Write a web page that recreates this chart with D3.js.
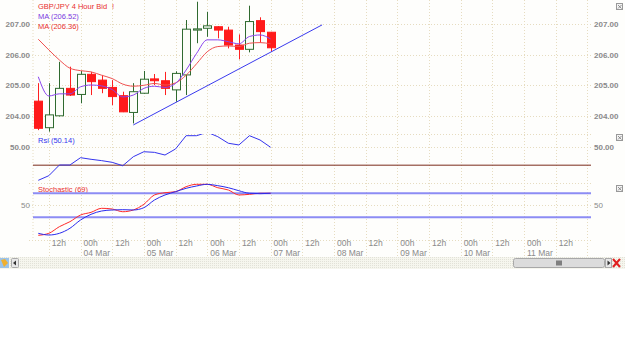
<!DOCTYPE html>
<html>
<head>
<meta charset="utf-8">
<script src="https://cdn.jsdelivr.net/npm/d3@7"></script>
<style>
  body { margin: 0; background: #fff; }
  svg { display: block; font-family: "Liberation Sans", Arial, sans-serif; }
</style>
</head>
<body>
<svg id="chart" width="625" height="342"></svg>
<script>
// GBP/JPY 4 hour candles, 03 Mar 08:00 -> 07 Mar 00:00 (2008)
var candleTimes = ["2008-03-03T08:00Z", "2008-03-03T12:00Z", "2008-03-03T16:00Z", "2008-03-03T20:00Z",
  "2008-03-04T00:00Z", "2008-03-04T04:00Z", "2008-03-04T08:00Z", "2008-03-04T12:00Z", "2008-03-04T16:00Z", "2008-03-04T20:00Z",
  "2008-03-05T00:00Z", "2008-03-05T04:00Z", "2008-03-05T08:00Z", "2008-03-05T12:00Z", "2008-03-05T16:00Z", "2008-03-05T20:00Z",
  "2008-03-06T00:00Z", "2008-03-06T04:00Z", "2008-03-06T08:00Z", "2008-03-06T12:00Z", "2008-03-06T16:00Z", "2008-03-06T20:00Z",
  "2008-03-07T00:00Z"];
var opens  = [204.48, 203.61, 204.00, 204.90, 204.70, 205.36, 205.17, 204.93, 204.66, 204.11, 204.74, 205.21, 205.15, 204.85, 205.34, 206.81, 206.87, 206.92, 206.81, 206.32, 206.18, 207.12, 206.74];
var highs  = [205.07, 205.07, 205.77, 205.61, 205.47, 205.44, 205.34, 205.17, 204.79, 205.07, 205.47, 205.37, 205.44, 205.46, 207.14, 207.74, 207.41, 206.94, 206.92, 206.67, 207.61, 207.23, 206.75];
var lows   = [203.53, 203.48, 203.98, 204.65, 204.41, 204.68, 204.74, 204.35, 204.12, 203.75, 204.72, 205.01, 204.68, 204.46, 204.68, 206.38, 206.59, 206.54, 206.21, 205.85, 206.08, 206.40, 206.10];
var closes = [203.59, 204.03, 204.90, 204.68, 205.36, 205.12, 204.90, 204.63, 204.13, 204.79, 205.20, 205.15, 204.90, 205.39, 206.84, 206.85, 206.95, 206.81, 206.32, 206.18, 207.09, 206.76, 206.23];
var maFast = [205.28, 204.65, 204.72, 204.72, 204.95, 205.01, 204.98, 204.86, 204.62, 204.68, 204.90, 204.97, 204.93, 205.06, 205.50, 206.05, 206.49, 206.49, 206.43, 206.36, 206.60, 206.65, 206.52];
var maSlow = [206.51, 206.16, 205.83, 205.56, 205.48, 205.44, 205.33, 205.22, 205.04, 204.97, 205.00, 205.06, 205.01, 205.08, 205.33, 205.71, 206.10, 206.27, 206.29, 206.27, 206.38, 206.40, 206.36];
var rsi    = [13.0, 18.2, 30.2, 30.2, 38.4, 36.6, 35.1, 33.2, 29.4, 39.5, 45.1, 44.4, 41.4, 48.2, 63.1, 63.1, 67.0, 62.0, 54.6, 52.7, 63.1, 58.3, 50.1];
var stochK = [0.0, 3.3, 14.4, 22.7, 33.8, 38.3, 45.0, 43.8, 39.3, 42.2, 51.7, 67.2, 71.0, 72.7, 81.0, 85.0, 85.0, 79.3, 75.5, 67.2, 68.3, 70.0, 70.0];
var stochD = [3.3, 0.5, 3.3, 11.7, 25.5, 35.0, 40.5, 42.2, 42.7, 42.2, 46.0, 58.8, 67.2, 72.7, 78.3, 82.2, 85.0, 82.7, 79.3, 74.3, 70.0, 69.4, 70.0];
var trendTimes = ["2008-03-04T20:00Z", "2008-03-07T19:30Z"];
var trendPrices = [203.70, 206.98];
var priceTicks = [204, 205, 206, 207];
var rsiLevel = 30;
var stochLevels = [30, 70];
var legendTexts = ["GBP/JPY 4 Hour Bid", "MA (206.52)", "MA (206.36)"];

var svg = d3.select("#chart");
var W = 625, left = 33, right = 591;
var gridCol = "#e6dcc0", labCol = "#8a8a8a";

var candles = candleTimes.map(function(t, i) {
  return {t: new Date(t), o: opens[i], h: highs[i], l: lows[i], c: closes[i],
    maF: maFast[i], maS: maSlow[i], rsi: rsi[i], k: stochK[i], d: stochD[i]};
});

var x = d3.scaleUtc()
  .domain([new Date("2008-03-03T06:00Z"), new Date("2008-03-12T01:00Z")])
  .range([left, 590]);

// panels
var pP = {top: 0, bottom: 134}, pR = {top: 134, bottom: 183}, pS = {top: 183, bottom: 238};
var yP = d3.scaleLinear().domain([204, 207]).range([115.8, 24.3]);
var yR = d3.scaleLinear().domain([10, 65]).range([183, 134]);
var yS = d3.scaleLinear().domain([0, 100]).range([235.3, 175.3]);

var defs = svg.append("defs");
[["clipP", pP], ["clipR", pR], ["clipS", pS]].forEach(function(c) {
  defs.append("clipPath").attr("id", c[0]).append("rect")
    .attr("x", left).attr("y", c[1].top).attr("width", right - left).attr("height", c[1].bottom - c[1].top);
});

svg.append("rect").attr("width", W).attr("height", 257).attr("fill", "#fefefc");

// vertical grid every 12h
var ticks = d3.utcHour.every(12).range(new Date("2008-03-03T12:00Z"), new Date("2008-03-12T01:00Z"));
svg.append("g").selectAll("line").data(ticks).enter().append("line")
  .attr("x1", function(d) { return Math.round(x(d)) + 0.5; })
  .attr("x2", function(d) { return Math.round(x(d)) + 0.5; })
  .attr("y1", 0).attr("y2", 257)
  .attr("stroke", gridCol).attr("stroke-dasharray", "1,2");

// horizontal separators and grid lines
var hLines = [pR.top, pS.top, pS.bottom + 2].concat(priceTicks.map(yP), [yR(50), yS(50)]);
svg.append("g").selectAll("line").data(hLines).enter().append("line")
  .attr("x1", left - 4).attr("x2", right)
  .attr("y1", function(d) { return Math.round(d) + 0.5; })
  .attr("y2", function(d) { return Math.round(d) + 0.5; })
  .attr("stroke", gridCol).attr("stroke-dasharray", "1,2");
svg.append("line").attr("x1", left).attr("x2", left).attr("y1", 0).attr("y2", 238)
  .attr("stroke", gridCol).attr("stroke-dasharray", "1,2");

// price axis labels both sides
var fmt2 = d3.format(".2f");
var axisL = svg.append("g").attr("transform", "translate(" + left + ",0)")
  .call(d3.axisLeft(yP).tickValues(priceTicks).tickFormat(fmt2).tickSize(0).tickPadding(3));
var axisR = svg.append("g").attr("transform", "translate(" + right + ",0)")
  .call(d3.axisRight(yP).tickValues(priceTicks).tickFormat(fmt2).tickSize(0).tickPadding(3));
var axisRL = svg.append("g").attr("transform", "translate(" + left + ",0)")
  .call(d3.axisLeft(yR).tickValues([50]).tickFormat(fmt2).tickSize(0).tickPadding(3));
var axisRR = svg.append("g").attr("transform", "translate(" + right + ",0)")
  .call(d3.axisRight(yR).tickValues([50]).tickFormat(fmt2).tickSize(0).tickPadding(3));
var axisSL = svg.append("g").attr("transform", "translate(" + left + ",0)")
  .call(d3.axisLeft(yS).tickValues([50]).tickFormat(d3.format("d")).tickSize(0).tickPadding(3));
var axisSR = svg.append("g").attr("transform", "translate(" + right + ",0)")
  .call(d3.axisRight(yS).tickValues([50]).tickFormat(d3.format("d")).tickSize(0).tickPadding(3));
[axisL, axisR, axisRL, axisRR].forEach(function(a) {
  a.select(".domain").remove();
  a.selectAll("text").attr("font-size", 8).attr("font-weight", "bold").attr("fill", labCol)
    .attr("font-family", "'Liberation Sans', Arial, sans-serif");
});
[axisSL, axisSR].forEach(function(a) {
  a.select(".domain").remove();
  a.selectAll("text").attr("font-size", 8).attr("fill", labCol)
    .attr("font-family", "'Liberation Sans', Arial, sans-serif");
});

// time labels
var tl = svg.append("g").attr("font-size", 8.5).attr("fill", labCol);
tl.selectAll("text.h").data(ticks.slice(0, -1)).enter().append("text").attr("class", "h")
  .attr("x", function(d) { return x(d) + 3; }).attr("y", 246)
  .text(function(d) { return d3.utcFormat("%H")(d) + "h"; });
tl.selectAll("text.d").data(ticks.filter(function(d) { return d.getUTCHours() === 0; }).slice(0, -1))
  .enter().append("text").attr("class", "d")
  .attr("x", function(d) { return x(d) + 3; }).attr("y", 256)
  .text(d3.utcFormat("%d %b"));

// price panel
var gP = svg.append("g").attr("clip-path", "url(#clipP)");
var bw = 8;
gP.selectAll("line.wick").data(candles).enter().append("line")
  .attr("x1", function(d) { return Math.round(x(d.t)) + 0.5; })
  .attr("x2", function(d) { return Math.round(x(d.t)) + 0.5; })
  .attr("y1", function(d) { return yP(d.h); }).attr("y2", function(d) { return yP(d.l); })
  .attr("stroke", function(d) { return d.c >= d.o ? "#2f6a2f" : "#ff2020"; });
gP.selectAll("rect.body").data(candles).enter().append("rect")
  .attr("x", function(d) { return Math.round(x(d.t)) - bw / 2 + 0.5; })
  .attr("y", function(d) { return yP(Math.max(d.o, d.c)); })
  .attr("width", bw)
  .attr("height", function(d) { return Math.max(1, Math.abs(yP(d.o) - yP(d.c))); })
  .attr("fill", function(d) { return d.c >= d.o ? "#fbfdf8" : "#ff1a1a"; })
  .attr("stroke", function(d) { return d.c >= d.o ? "#2f6a2f" : "#ff1a1a"; });

var lineP = function(key) {
  return d3.line().x(function(d) { return x(d.t); }).y(function(d) { return yP(d[key]); }).curve(d3.curveMonotoneX);
};
gP.append("path").datum(candles).attr("d", lineP("maS")).attr("fill", "none").attr("stroke", "#f05050").attr("stroke-width", 1);
gP.append("path").datum(candles).attr("d", lineP("maF")).attr("fill", "none").attr("stroke", "#8a44ee").attr("stroke-width", 1);
gP.append("line")
  .attr("x1", x(new Date(trendTimes[0]))).attr("y1", yP(trendPrices[0]))
  .attr("x2", x(new Date(trendTimes[1]))).attr("y2", yP(trendPrices[1]))
  .attr("stroke", "#3a3aee").attr("stroke-width", 1);

// legends
var lg = svg.append("g").attr("font-size", 7.5);
lg.append("text").attr("x", left + 5).attr("y", 9).attr("fill", "#e83030").text(legendTexts[0]);
lg.append("text").attr("x", 112).attr("y", 9).attr("fill", "#e83030").text("!");
lg.append("text").attr("x", left + 5).attr("y", 19).attr("fill", "#7a3ae0").text(legendTexts[1]);
lg.append("text").attr("x", left + 5).attr("y", 29).attr("fill", "#e83030").text(legendTexts[2]);

// RSI panel
var gR = svg.append("g").attr("clip-path", "url(#clipR)");
gR.append("line").attr("x1", left).attr("x2", right).attr("y1", yR(rsiLevel)).attr("y2", yR(rsiLevel))
  .attr("stroke", "#7a2a1a").attr("stroke-width", 1);
gR.append("path").datum(candles)
  .attr("d", d3.line().x(function(d) { return x(d.t); }).y(function(d) { return yR(d.rsi); }))
  .attr("fill", "none").attr("stroke", "#3434ee").attr("stroke-width", 1);
lg.append("text").attr("x", left + 5).attr("y", 143).attr("fill", "#3434ee").text("Rsi (50.14)");

// stochastic panel
var gS = svg.append("g").attr("clip-path", "url(#clipS)");
gS.selectAll("line.lvl").data(stochLevels).enter().append("line")
  .attr("x1", left).attr("x2", right)
  .attr("y1", function(d) { return yS(d); }).attr("y2", function(d) { return yS(d); })
  .attr("stroke", "#8c8cf4").attr("stroke-width", 2);
var lineS = function(key) {
  return d3.line().x(function(d) { return x(d.t); }).y(function(d) { return yS(d[key]); }).curve(d3.curveMonotoneX);
};
gS.append("path").datum(candles).attr("d", lineS("k")).attr("fill", "none").attr("stroke", "#ff2a2a").attr("stroke-width", 1);
gS.append("path").datum(candles).attr("d", lineS("d")).attr("fill", "none").attr("stroke", "#2a2aee").attr("stroke-width", 1);
lg.append("text").attr("x", left + 5).attr("y", 192).attr("fill", "#e83030").text("Stochastic (69)");

// close boxes on the right
[3, 134, 185].forEach(function(yy) {
  var b = svg.append("g").attr("transform", "translate(616," + (yy + 0.5) + ")");
  b.append("rect").attr("x", 0.5).attr("width", 6).attr("height", 6).attr("fill", "#f4f4f4").attr("stroke", "#999");
  b.append("path").attr("d", "M2,1.5L5.5,5M5.5,1.5L2,5").attr("stroke", "#777").attr("stroke-width", 0.8);
});

// scrollbar strip
var sb = svg.append("g").attr("transform", "translate(0,257)");
var pat = defs.append("pattern").attr("id", "dots").attr("width", 2).attr("height", 2).attr("patternUnits", "userSpaceOnUse");
pat.append("rect").attr("width", 2).attr("height", 2).attr("fill", "#f6f6ee");
pat.append("rect").attr("width", 1).attr("height", 1).attr("fill", "#e2e2d8");
sb.append("rect").attr("x", 0).attr("width", W).attr("height", 12).attr("fill", "url(#dots)");
sb.append("rect").attr("x", 0).attr("y", 1).attr("width", 9).attr("height", 10).attr("fill", "#9cc4ea");
sb.append("path").attr("d", "M1,3L5,2L8,6L4,10Z").attr("fill", "#f0b030");
sb.append("rect").attr("x", 11.5).attr("y", 1.5).attr("width", 7).attr("height", 9).attr("rx", 1)
  .attr("fill", "#e8e8e8").attr("stroke", "#aaa");
sb.append("path").attr("d", "M16,3.5L13,6L16,8.5Z").attr("fill", "#333");
sb.append("rect").attr("x", 513.5).attr("y", 1.5).attr("width", 91).attr("height", 9).attr("rx", 2)
  .attr("fill", "#dcdcdc").attr("stroke", "#a8a8a8");
sb.append("path").attr("d", "M557,3.5v5M559,3.5v5M561,3.5v5").attr("stroke", "#222").attr("stroke-width", 1);
sb.append("rect").attr("x", 605.5).attr("y", 1.5).attr("width", 6).attr("height", 9).attr("fill", "#e8e8e8").attr("stroke", "#aaa");
sb.append("path").attr("d", "M607.5,3.5L610.5,6L607.5,8.5Z").attr("fill", "#333");
sb.append("path").attr("d", "M613,2L620,10M620,2L613,10").attr("stroke", "#e02020").attr("stroke-width", 2);
</script>
</body>
</html>
